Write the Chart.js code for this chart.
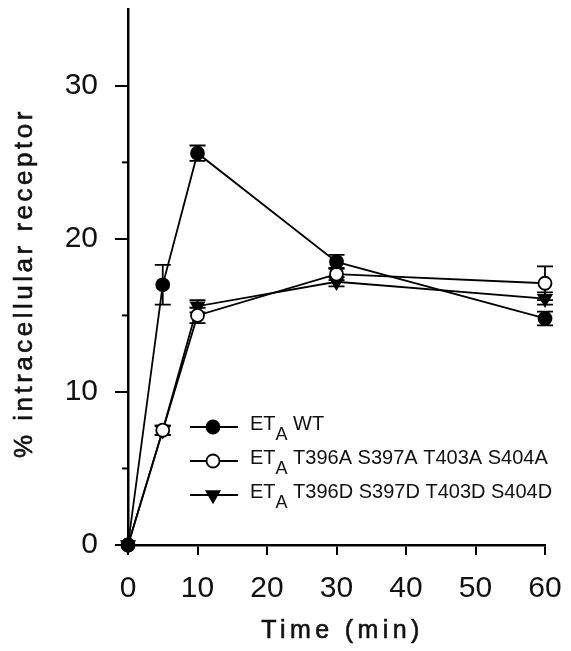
<!DOCTYPE html>
<html>
<head>
<meta charset="utf-8">
<script src="https://cdn.jsdelivr.net/npm/chart.js@4/dist/chart.umd.min.js"></script>
<style>
  body { margin: 0; background: #fff; }
  canvas { display: block; }
</style>
</head>
<body>
<canvas id="myChart" width="571" height="651"></canvas>
<script>
// data
const times = [0, 5, 10, 30, 60];
const wtMean = [0, 17.0, 25.6, 18.5, 14.8];
const wtErr = [0, 1.3, 0.5, 0.45, 0.45];
const alaMean = [0, 7.5, 15.0, 17.7, 17.1];
const alaErr = [0, 0.3, 0.5, 0.4, 1.1];
const aspMean = [0, 7.5, 15.6, 17.2, 16.1];
const aspErr = [0, 0.3, 0.4, 0.3, 0.4];

const xTicks = [0, 10, 20, 30, 40, 50, 60];
const yTicks = [0, 10, 20, 30];
const yMinorTicks = [5, 15, 25];

const labelPrefix = "ET";
const labelSub = "A";
const seriesNames = ["WT", "T396A S397A T403A S404A", "T396D S397D T403D S404D"];
const xTitle = "Time (min)";
const yTitle = "% intracellular receptor";

const FONT = "'Liberation Sans', Arial, Helvetica, sans-serif";

const toPoints = (ys) => times.map((t, i) => ({ x: t, y: ys[i] }));

const series = [
    { mean: wtMean, err: wtErr, style: "circle", fill: "#000", rotation: 0, radius: 6.5 },
    { mean: alaMean, err: alaErr, style: "circle", fill: "#fff", rotation: 0, radius: 6.5 },
    { mean: aspMean, err: aspErr, style: "triangle", fill: "#000", rotation: 180, radius: 7.5 }
];

// error bars behind the markers
const errorBars = {
    id: "errorBars",
    beforeDatasetsDraw(chart) {
        const ctx = chart.ctx;
        const xs = chart.scales.x, ys = chart.scales.y;
        ctx.save();
        ctx.strokeStyle = "#000";
        ctx.lineWidth = 1.8;
        series.forEach(s => {
            times.forEach((t, i) => {
                if (!s.err[i]) return;
                const px = xs.getPixelForValue(t);
                const top = ys.getPixelForValue(s.mean[i] + s.err[i]);
                const bot = ys.getPixelForValue(s.mean[i] - s.err[i]);
                ctx.beginPath();
                ctx.moveTo(px, top); ctx.lineTo(px, bot);
                ctx.moveTo(px - 8, top); ctx.lineTo(px + 8, top);
                ctx.moveTo(px - 8, bot); ctx.lineTo(px + 8, bot);
                ctx.stroke();
            });
        });
        ctx.restore();
    }
};

// minor ticks, axis titles and legend with subscript
const extras = {
    id: "extras",
    afterDraw(chart) {
        const ctx = chart.ctx;
        const ys = chart.scales.y;
        const area = chart.chartArea;
        ctx.save();
        ctx.strokeStyle = "#000";
        ctx.lineWidth = 2;
        yMinorTicks.forEach(v => {
            const py = ys.getPixelForValue(v);
            ctx.beginPath();
            ctx.moveTo(area.left - 6, py);
            ctx.lineTo(area.left, py);
            ctx.stroke();
        });

        ctx.fillStyle = "#111";
        ctx.strokeStyle = "#111";
        ctx.lineWidth = 0.6;
        // y title
        ctx.save();
        ctx.font = "26px " + FONT;
        if ("letterSpacing" in ctx) ctx.letterSpacing = "3.5px";
        ctx.textAlign = "center";
        ctx.textBaseline = "middle";
        ctx.translate(25, (area.top + area.bottom) / 2 + 6);
        ctx.rotate(-Math.PI / 2);
        ctx.fillText(yTitle, 0, 0);
        ctx.strokeText(yTitle, 0, 0);
        ctx.restore();

        // x title
        ctx.save();
        ctx.font = "25px " + FONT;
        if ("letterSpacing" in ctx) ctx.letterSpacing = "4.4px";
        ctx.textAlign = "center";
        ctx.textBaseline = "middle";
        const tx = (area.left + area.right) / 2 + 6;
        ctx.fillText(xTitle, tx, 631);
        ctx.strokeText(xTitle, tx, 631);
        ctx.restore();

        // legend
        const rowY = [427, 461, 495];
        series.forEach((s, i) => {
            const y = rowY[i];
            ctx.strokeStyle = "#000";
            ctx.lineWidth = 1.8;
            ctx.beginPath();
            ctx.moveTo(190, y); ctx.lineTo(238, y);
            ctx.stroke();
            ctx.fillStyle = s.fill;
            Chart.helpers.drawPoint(ctx, {
                pointStyle: s.style, radius: s.radius, rotation: s.rotation, borderWidth: 1.8
            }, 213, y);
            ctx.fillStyle = "#111";
            ctx.textAlign = "left";
            ctx.textBaseline = "alphabetic";
            let x = 250;
            ctx.font = "20px " + FONT;
            ctx.fillText(labelPrefix, x, y + 3);
            x += ctx.measureText(labelPrefix).width;
            ctx.font = "18px " + FONT;
            ctx.fillText(labelSub, x, y + 13);
            x += ctx.measureText(labelSub).width;
            ctx.font = "20px " + FONT;
            ctx.fillText(" " + seriesNames[i], x, y + 3);
        });
        ctx.restore();
    }
};

const noPad = (scale) => {
    scale.paddingTop = 0;
    scale.paddingBottom = 0;
    scale.paddingLeft = 0;
    scale.paddingRight = 0;
};

const ctx = document.getElementById("myChart").getContext("2d");
new Chart(ctx, {
    type: "line",
    data: {
        datasets: series.map((s, i) => ({
            label: labelPrefix + labelSub + " " + seriesNames[i],
            data: toPoints(s.mean),
            borderColor: "#000",
            borderWidth: 1.8,
            pointStyle: s.style,
            pointRotation: s.rotation,
            pointRadius: s.radius,
            pointBackgroundColor: s.fill,
            pointBorderColor: "#000",
            pointBorderWidth: 1.8,
            fill: false,
            tension: 0,
            clip: false
        }))
    },
    options: {
        responsive: false,
        animation: false,
        events: [],
        layout: { padding: { top: 8, right: 26, left: 0, bottom: 0 } },
        plugins: { legend: { display: false }, tooltip: { enabled: false } },
        scales: {
            x: {
                type: "linear",
                min: 0,
                max: 60,
                afterBuildTicks: (scale) => { scale.ticks = xTicks.map(v => ({ value: v })); },
                afterFit: (scale) => { scale.height = 106; noPad(scale); },
                grid: { display: true, drawOnChartArea: false, drawTicks: true, tickLength: 10, color: "#000", lineWidth: 2 },
                border: { display: true, color: "#000", width: 2.5 },
                ticks: { color: "#111", padding: 16, maxRotation: 0, font: { family: FONT, size: 30 } },
                title: { display: false, text: xTitle }
            },
            y: {
                min: 0,
                max: 35,
                afterBuildTicks: (scale) => { scale.ticks = yTicks.map(v => ({ value: v })); },
                afterFit: (scale) => { scale.width = 128; noPad(scale); },
                grid: { display: true, drawOnChartArea: false, drawTicks: true, tickLength: 13, color: "#000", lineWidth: 2 },
                border: { display: true, color: "#000", width: 2.5 },
                ticks: { color: "#111", padding: 17, font: { family: FONT, size: 30 } },
                title: { display: false, text: yTitle }
            }
        }
    },
    plugins: [errorBars, extras]
});
</script>
</body>
</html>
